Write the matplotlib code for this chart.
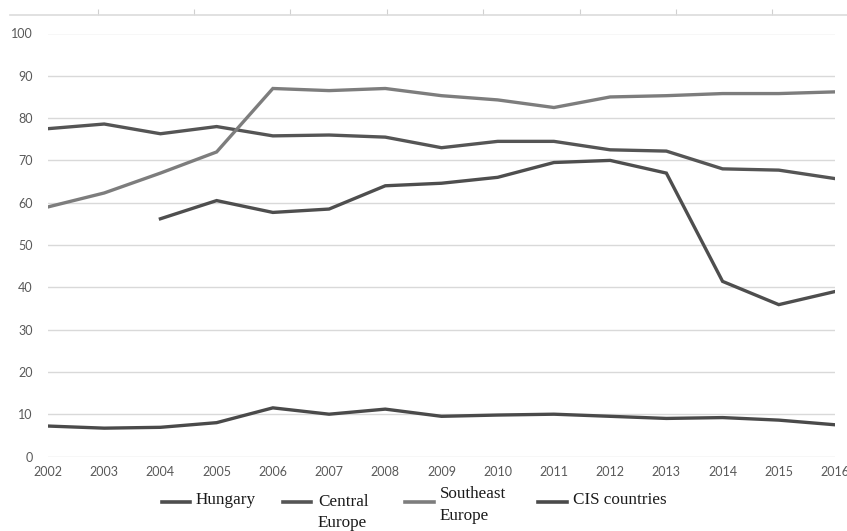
import matplotlib
matplotlib.use("Agg")
import matplotlib.pyplot as plt
from matplotlib.lines import Line2D
import numpy as np

# 数据：各地区指标（2002-2016）
years = list(range(2002, 2017))
hungary = [np.nan, np.nan, 56.2, 60.5, 57.7, 58.5, 64.0, 64.6, 66.0, 69.5, 70.0, 67.0, 41.4, 35.9, 39.0]
central_europe = [77.5, 78.6, 76.3, 78.0, 75.8, 76.0, 75.5, 73.0, 74.5, 74.5, 72.5, 72.2, 68.0, 67.7, 65.7]
southeast_europe = [59.0, 62.3, 67.0, 72.0, 87.0, 86.5, 87.0, 85.3, 84.3, 82.5, 85.0, 85.3, 85.8, 85.8, 86.2]
cis_countries = [7.2, 6.7, 6.9, 8.0, 11.5, 10.0, 11.2, 9.5, 9.8, 10.0, 9.5, 9.0, 9.2, 8.6, 7.5]

series = [
    ("Hungary", hungary, "#4e4e4e"),
    ("Central Europe", central_europe, "#555555"),
    ("Southeast Europe", southeast_europe, "#7d7d7d"),
    ("CIS countries", cis_countries, "#4a4a4a"),
]

W, H = 847, 531
fig = plt.figure(figsize=(W / 100, H / 100), dpi=100)
fig.patch.set_facecolor("white")


def fx(px):
    return px / W


def fy(py):
    return 1 - py / H


ax = fig.add_axes([fx(48), fy(456.5), fx(835) - fx(48), fy(33.5) - fy(456.5)])
for name, vals, color in series:
    ax.plot(years, vals, color=color, lw=2.4, solid_joinstyle="miter", zorder=3)

ax.set_xlim(2002, 2016)
ax.set_ylim(0, 100)
ax.set_yticks(range(0, 101, 10))
ax.set_xticks(years)
ax.grid(axis="y", color="#d9d9d9", lw=1)
ax.set_axisbelow(True)
for s in ax.spines.values():
    s.set_visible(False)
ax.tick_params(length=0, labelsize=9, labelcolor="#595959")
ax.tick_params(axis="y", pad=11)
ax.tick_params(axis="x", pad=7)
for lab in ax.get_xticklabels() + ax.get_yticklabels():
    lab.set_fontfamily("Lato")

# 顶部残留的浅色轴线
top = fig.add_axes([fx(10), fy(15), fx(847) - fx(10), 0.001])
top.set_facecolor("none")
for k, s in top.spines.items():
    s.set_visible(k == "bottom")
top.spines["bottom"].set_color("#dcdcdc")
top.spines["bottom"].set_linewidth(1.2)
top.set_xlim(10, 847)
top.set_xticks(np.arange(97.5, 847, 96.4))
top.set_yticks([])
top.tick_params(axis="x", direction="in", length=4, color="#d0d0d0", labelbottom=False)

# 图例（手动排布，多行标签逐行放置）
legend_items = [
    (162, 190, 196, [(500, "Hungary")]),
    (283, 311, 318, [(502, "Central"), (523, "Europe")]),
    (405, 434, 440, [(494, "Southeast"), (516, "Europe")]),
    (538, 567, 573, [(500, "CIS countries")]),
]
for (x0, x1, tx, lines), (_, _, color) in zip(legend_items, series):
    fig.add_artist(Line2D([fx(x0), fx(x1)], [fy(502), fy(502)], color=color, lw=2.6,
                          transform=fig.transFigure))
    for ty, txt in lines:
        fig.text(fx(tx), fy(ty), txt, ha="left", va="center", fontsize=12.3,
                 family="Liberation Serif", color="#1a1a1a")

fig.savefig("out.png", dpi=100)
